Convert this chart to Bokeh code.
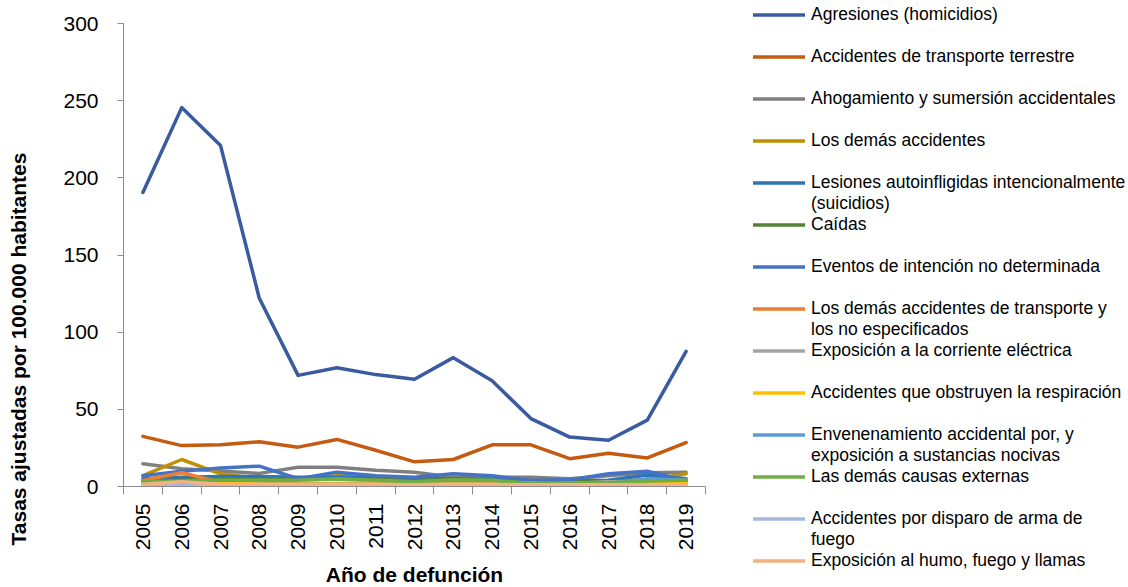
from math import pi
from bokeh.plotting import figure
from bokeh.models import Range1d, FixedTicker, Legend, LegendItem, Title
from bokeh.embed import file_html
from bokeh.resources import INLINE

years = list(range(2005, 2020))

series_names = [
    "Agresiones (homicidios)",
    "Accidentes de transporte terrestre",
    "Ahogamiento y sumersión accidentales",
    "Los demás accidentes",
    "Lesiones autoinfligidas intencionalmente\n(suicidios)",
    "Caídas",
    "Eventos de intención no determinada",
    "Los demás accidentes de transporte y\nlos no especificados",
    "Exposición a la corriente eléctrica",
    "Accidentes que obstruyen la respiración",
    "Envenenamiento accidental por, y\nexposición a sustancias nocivas",
    "Las demás causas externas",
    "Accidentes por disparo de arma de\nfuego",
    "Exposición al humo, fuego y llamas",
]

agresiones = [190.5, 245.5, 221.0, 122.0, 72.0, 77.0, 72.5, 69.5, 83.5, 68.5, 44.0, 32.0, 30.0, 43.0, 87.5]
transporte_terrestre = [32.5, 26.5, 27.0, 29.0, 25.5, 30.5, 23.5, 16.0, 17.5, 27.0, 27.0, 18.0, 21.5, 18.5, 28.5]
ahogamiento = [14.7, 11.5, 10.0, 8.5, 12.5, 12.5, 10.5, 9.3, 6.0, 6.0, 6.0, 5.0, 7.0, 8.9, 9.3]
demas_accidentes = [7.0, 17.5, 8.2, 5.0, 4.5, 7.0, 6.5, 5.0, 2.8, 3.9, 2.8, 2.8, 3.3, 4.3, 8.2]
lesiones = [5.0, 6.0, 6.5, 6.5, 6.0, 6.0, 5.5, 5.0, 5.0, 4.5, 3.5, 3.5, 4.0, 7.5, 5.0]
caidas = [3.5, 4.0, 5.0, 5.0, 5.0, 5.0, 4.5, 4.0, 4.5, 4.0, 3.0, 3.0, 3.0, 3.5, 4.0]
eventos = [7.0, 9.9, 12.0, 13.2, 5.0, 9.3, 7.0, 6.0, 8.2, 7.0, 3.9, 4.3, 8.2, 9.9, 3.9]
demas_transporte = [3.9, 8.9, 2.8, 2.0, 1.8, 1.8, 1.8, 1.5, 1.8, 1.8, 2.4, 1.5, 1.8, 1.8, 2.0]
corriente = [2.0, 2.5, 2.5, 2.0, 2.0, 2.0, 2.5, 2.0, 2.0, 2.0, 1.5, 2.0, 3.0, 3.5, 4.0]
obstruyen = [1.5, 2.0, 2.0, 1.5, 1.5, 1.5, 1.5, 1.5, 1.5, 1.5, 1.5, 1.5, 1.5, 2.0, 3.0]
envenenamiento = [1.0, 1.2, 1.0, 1.0, 1.0, 1.0, 1.0, 1.0, 1.0, 1.0, 1.0, 1.5, 2.0, 5.0, 4.0]
demas_causas = [3.0, 3.5, 4.0, 4.0, 4.0, 5.0, 4.0, 3.0, 4.3, 4.0, 2.0, 2.5, 2.5, 3.5, 4.0]
disparo = [1.0, 0.5, 0.5, 0.5, 0.5, 0.5, 0.5, 0.5, 0.5, 0.5, 0.3, 0.3, 0.3, 0.3, 0.3]
humo = [1.5, 3.0, 1.5, 1.2, 1.2, 1.2, 1.2, 1.2, 1.2, 1.2, 1.2, 1.2, 1.2, 1.2, 1.2]

series_values = [agresiones, transporte_terrestre, ahogamiento, demas_accidentes, lesiones,
                 caidas, eventos, demas_transporte, corriente, obstruyen, envenenamiento,
                 demas_causas, disparo, humo]

colors = ["#3A5BA0", "#C55A11", "#7F7F7F", "#BF9000", "#2E75B6", "#548235", "#4472C4",
          "#ED7D31", "#A5A5A5", "#FFC000", "#5B9BD5", "#70AD47", "#A9B8DE", "#F4B183"]

y_ticks = [0, 50, 100, 150, 200, 250, 300]

FONT = "Liberation Sans"
AXIS_COLOR = "#8C8C8C"

p = figure(frame_width=582, frame_height=463,
           min_border_left=123, min_border_top=23, min_border_right=419, min_border_bottom=99,
           x_range=Range1d(years[0] - 0.5, years[-1] + 0.5), y_range=Range1d(0, 300),
           output_backend="svg", toolbar_location=None)
p.xgrid.visible = False
p.ygrid.visible = False
p.outline_line_color = None
p.background_fill_color = "white"
p.border_fill_color = "white"

renderers = []
for vals, col in zip(series_values, colors):
    r = p.line(years, vals, line_color=col, line_width=3.5, line_join="round", line_cap="round")
    renderers.append(r)

# x axis
p.xaxis.ticker = FixedTicker(ticks=years, minor_ticks=[y - 0.5 for y in years] + [years[-1] + 0.5])
p.xaxis.major_label_overrides = {y: str(y) for y in years}
p.xaxis.major_tick_out = 0
p.xaxis.major_tick_in = 0
p.xaxis.minor_tick_out = 8
p.xaxis.minor_tick_in = 0
p.xaxis.major_label_orientation = pi / 2
p.xaxis.major_label_standoff = 9
p.xaxis.major_label_text_font = FONT
p.xaxis.major_label_text_font_size = "21px"
p.xaxis.major_label_text_color = "black"
p.xaxis.axis_label = "Año de defunción"
p.xaxis.axis_label_text_font = FONT
p.xaxis.axis_label_text_font_size = "21px"
p.xaxis.axis_label_text_font_style = "bold"
p.xaxis.axis_label_text_color = "black"
p.xaxis.axis_label_standoff = 10
p.xaxis.axis_line_color = AXIS_COLOR
p.xaxis.minor_tick_line_color = AXIS_COLOR

# y axis
p.yaxis.ticker = FixedTicker(ticks=y_ticks, minor_ticks=[])
p.yaxis.major_tick_out = 6
p.yaxis.major_tick_in = 0
p.yaxis.minor_tick_out = 0
p.yaxis.minor_tick_in = 0
p.yaxis.major_label_standoff = 19
p.yaxis.major_label_text_font = FONT
p.yaxis.major_label_text_font_size = "21px"
p.yaxis.major_label_text_color = "black"
p.yaxis.axis_line_color = AXIS_COLOR
p.yaxis.major_tick_line_color = AXIS_COLOR

# the blank second line keeps a gap between the title and the tick labels
ytitle = Title(text="Tasas ajustadas por 100.000 habitantes\n ", align="left", offset=-59,
               vertical_align="top", standoff=12,
               text_font=FONT, text_font_size="21px", text_font_style="bold", text_color="black")
p.add_layout(ytitle, "left")

# legend laid out on a grid of half-rows: the first row of every entry carries the
# line sample, the second row carries the wrapped rest of the name (or stays blank)
items = []
for k, (name, r) in enumerate(zip(series_names, renderers)):
    parts = name.split("\n")
    items.append(LegendItem(label=parts[0], renderers=[r]))
    if len(parts) > 1:
        items.append(LegendItem(label=parts[1], renderers=[]))
    elif k < len(series_names) - 1:
        items.append(LegendItem(label=" ", renderers=[]))

legend = Legend(items=items, location=(48, -84.5), orientation="vertical",
                glyph_width=52, glyph_height=21, label_height=21, label_standoff=6,
                spacing=0, padding=0, margin=0, border_line_color=None,
                background_fill_alpha=0, label_text_font=FONT, label_text_font_size="17.5px",
                label_text_color="black")
p.add_layout(legend, "right")

open("out.html", "w").write(file_html(p, INLINE))
